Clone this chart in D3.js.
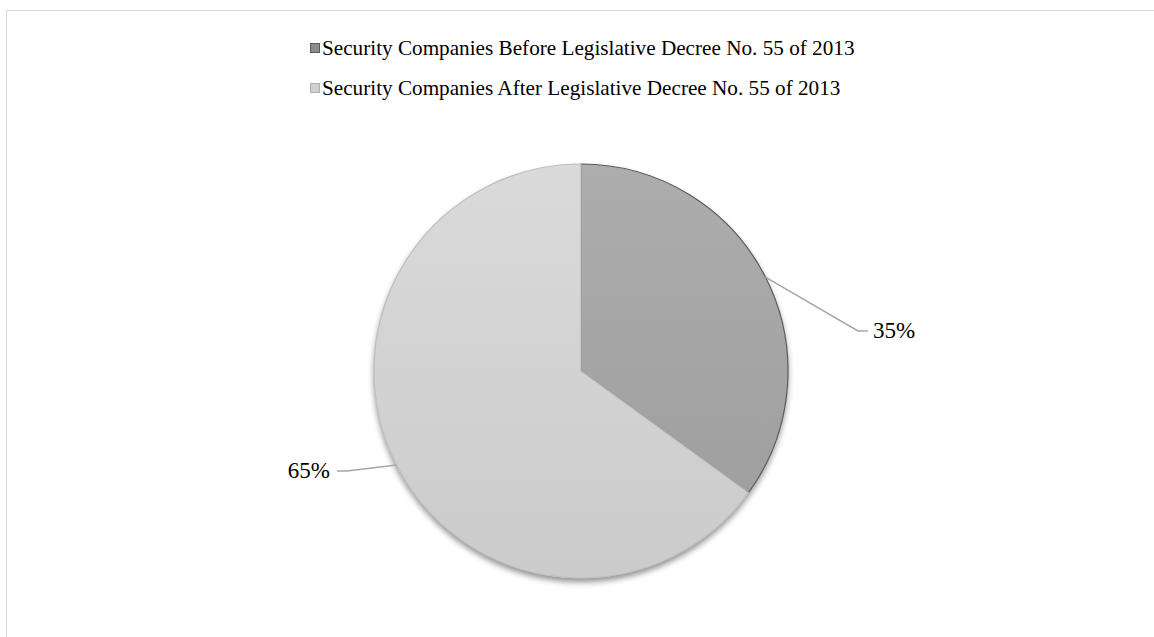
<!DOCTYPE html>
<html>
<head>
<meta charset="utf-8">
<script src="https://cdn.jsdelivr.net/npm/d3@7"></script>
<style>
  body { margin: 0; background: #fff; }
</style>
</head>
<body>
<svg id="chart" width="1154" height="637"></svg>
<script>
// данные
const categories = [
    "Security Companies Before Legislative Decree No. 55 of 2013",
    "Security Companies After Legislative Decree No. 55 of 2013"
];
const values = [35, 65];
const labels = ["35%", "65%"];

const width = 1154;
const height = 637;
const cx = 581, cy = 371, radius = 207;
const font = "'Liberation Serif', 'Times New Roman', serif";

const svg = d3.select("#chart");

// рамка
svg.append("rect")
    .attr("x", 6.5).attr("y", 10.5)
    .attr("width", width + 10).attr("height", height + 10)
    .attr("fill", "none")
    .attr("stroke", "#d9d9d9");

const defs = svg.append("defs");

const grads = [
    { id: "g0", top: "#adadad", bottom: "#9c9c9c", stroke: "#5a5a5a" },
    { id: "g1", top: "#dadada", bottom: "#cbcbcb", stroke: "#bdbdbd" }
];
grads.forEach(g => {
    const lg = defs.append("linearGradient")
        .attr("id", g.id)
        .attr("gradientUnits", "userSpaceOnUse")
        .attr("x1", 0).attr("y1", -radius)
        .attr("x2", 0).attr("y2", radius);
    lg.append("stop").attr("offset", "0%").attr("stop-color", g.top);
    lg.append("stop").attr("offset", "100%").attr("stop-color", g.bottom);
});

const shadow = defs.append("filter").attr("id", "shadow")
    .attr("x", "-20%").attr("y", "-20%").attr("width", "140%").attr("height", "140%");
shadow.append("feGaussianBlur").attr("in", "SourceAlpha").attr("stdDeviation", 3);
shadow.append("feOffset").attr("dx", 0).attr("dy", 4).attr("result", "off");
shadow.append("feComponentTransfer").append("feFuncA").attr("type", "linear").attr("slope", 0.45);
const merge = shadow.append("feMerge");
merge.append("feMergeNode");
merge.append("feMergeNode").attr("in", "SourceGraphic");

const g = svg.append("g").attr("transform", `translate(${cx},${cy})`);

const pie = d3.pie().sort(null).value(d => d);
const arcs = pie(values);
const arc = d3.arc().innerRadius(0).outerRadius(radius);

// тень
g.append("circle").attr("r", radius).attr("fill", "#fff").attr("filter", "url(#shadow)");

// сектора
g.selectAll(".slice")
    .data(arcs)
    .enter()
    .append("path")
    .attr("class", "slice")
    .attr("d", arc)
    .attr("fill", (d, i) => `url(#${grads[i].id})`)
    .attr("stroke", (d, i) => grads[i].stroke)
    .attr("stroke-width", 1.2);

// выноски
const leaders = [
    { mid: [277, -40], end: [287, -40], anchor: "start", tx: 292 },
    { mid: [-234, 100], end: [-244, 100], anchor: "end", tx: -251 }
];
arcs.forEach((d, i) => {
    const a = (d.startAngle + d.endAngle) / 2;
    const L = leaders[i];
    const p0 = [Math.sin(a) * radius, -Math.cos(a) * radius];
    g.append("polyline")
        .attr("points", [p0, L.mid, L.end].map(p => p.join(",")).join(" "))
        .attr("fill", "none")
        .attr("stroke", "#a6a6a6")
        .attr("stroke-width", 1.5);
    g.append("text")
        .attr("x", L.tx)
        .attr("y", L.end[1] + 7)
        .attr("text-anchor", L.anchor)
        .attr("font-family", font)
        .attr("font-size", 23)
        .attr("fill", "#000")
        .text(labels[i]);
});

// легенда
const legendColors = ["#8c8c8c", "#d0d0d0"];
const legendStroke = ["#595959", "#b0b0b0"];
const legend = svg.append("g").attr("transform", "translate(310,43)");
categories.forEach((c, i) => {
    const row = legend.append("g").attr("transform", `translate(0,${i * 40})`);
    row.append("rect")
        .attr("x", 0.5).attr("y", 0.5)
        .attr("width", 9).attr("height", 9)
        .attr("fill", legendColors[i])
        .attr("stroke", legendStroke[i]);
    row.append("text")
        .attr("x", 12)
        .attr("y", 11.5)
        .attr("font-family", font)
        .attr("font-size", 21.2)
        .attr("fill", "#000")
        .text(c);
});
</script>
</body>
</html>
